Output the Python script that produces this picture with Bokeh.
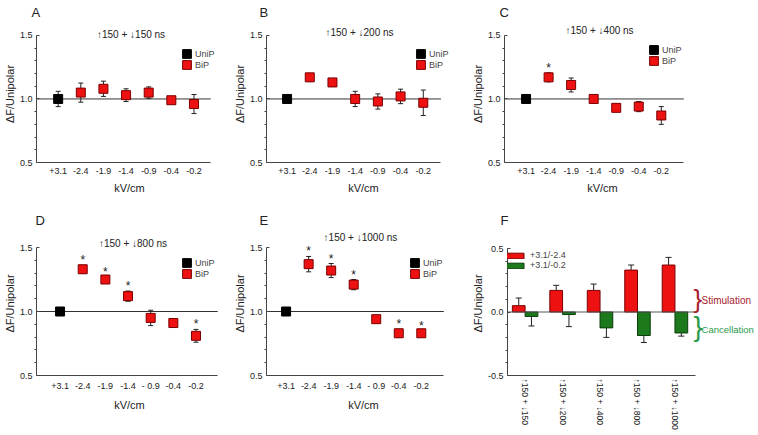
from bokeh.plotting import figure
from bokeh.models import (ColumnDataSource, Range1d, FixedTicker, NumeralTickFormatter,
                          Label, Legend, LegendItem, Whisker, TeeHead, Title)
from bokeh.layouts import row, column
from bokeh.embed import file_html
from bokeh.resources import INLINE
from bokeh.core.properties import value

FONT = "Liberation Sans"

# ---------------- data ----------------
field_labels = ["+3.1", "-2.4", "-1.9", "-1.4", "-0.9", "-0.4", "-0.2"]
field_labels_de = ["+3.1", "-2.4", "-1.9", "-1.4", "- 0.9", "-0.4", "-0.2"]
legend_labels = ["UniP", "BiP"]

A_title = "↑150 + ↓150 ns"
A_mean = [1.00, 1.05, 1.08, 1.03, 1.05, 0.99, 0.96]
A_err = [0.06, 0.075, 0.06, 0.05, 0.045, 0.02, 0.075]
A_sig = ["", "", "", "", "", "", ""]

B_title = "↑150 + ↓200 ns"
B_mean = [1.00, 1.17, 1.13, 1.00, 0.98, 1.02, 0.97]
B_err = [0.02, 0.03, 0.025, 0.06, 0.06, 0.057, 0.10]
B_sig = ["", "", "", "", "", "", ""]

C_title = "↑150 + ↓400 ns"
C_mean = [1.00, 1.17, 1.11, 1.00, 0.93, 0.94, 0.87]
C_err = [0.03, 0.035, 0.055, 0.03, 0.02, 0.04, 0.07]
C_sig = ["", "*", "", "", "", "", ""]

D_title = "↑150 + ↓800 ns"
D_mean = [1.00, 1.33, 1.25, 1.12, 0.95, 0.91, 0.81]
D_err = [0.02, 0.03, 0.02, 0.04, 0.06, 0.025, 0.05]
D_sig = ["", "*", "*", "*", "", "", "*"]

E_title = "↑150 + ↓1000 ns"
E_mean = [1.00, 1.37, 1.32, 1.21, 0.94, 0.83, 0.83]
E_err = [0.01, 0.06, 0.055, 0.04, 0.02, 0.03, 0.02]
E_sig = ["", "*", "*", "*", "", "*", "*"]

F_labels = ["↑150 + ↓150", "↑150 + ↓200", "↑150 + ↓400", "↑150 + ↓800", "↑150 + ↓1000"]
F_series = ["+3.1/-2.4", "+3.1/-0.2"]
F_stim = [0.05, 0.17, 0.17, 0.33, 0.37]
F_stim_err = [0.06, 0.04, 0.05, 0.04, 0.06]
F_canc = [-0.035, -0.02, -0.125, -0.185, -0.165]
F_canc_err = [0.075, 0.095, 0.075, 0.055, 0.025]

# ---------------- styles ----------------
RED = "#ee1111"
RED_LINE = "#7a0000"
GREEN = "#1c7a1c"
GREEN_LINE = "#0b3d0b"
AXIS = "#444444"
TXT = "#222222"
MINOR_AE = [0.6, 0.7, 0.8, 0.9, 1.1, 1.2, 1.3, 1.4]
MINOR_F = [-0.4, -0.3, -0.2, -0.1, 0.1, 0.2, 0.3, 0.4]


def style_axes(p, ylabel, xlabel):
    p.xgrid.visible = False
    p.ygrid.visible = False
    p.outline_line_color = None
    for ax in (p.xaxis[0], p.yaxis[0]):
        ax.axis_line_color = AXIS
        ax.major_tick_line_color = AXIS
        ax.minor_tick_line_color = AXIS
        ax.major_label_text_font = FONT
        ax.major_label_text_font_size = "9px"
        ax.major_label_text_color = TXT
        ax.axis_label_text_font = FONT
        ax.axis_label_text_font_size = "11px"
        ax.axis_label_text_font_style = "normal"
        ax.axis_label_text_color = TXT
    y = p.yaxis[0]
    y.axis_label = ylabel
    y.major_tick_in = 3
    y.major_tick_out = 0
    y.minor_tick_in = 0
    y.minor_tick_out = 2
    y.major_label_standoff = 2
    y.axis_label_standoff = 1
    y.formatter = NumeralTickFormatter(format="0.0")
    x = p.xaxis[0]
    x.axis_label = xlabel
    x.major_tick_in = 0
    x.major_tick_out = 0
    x.minor_tick_in = 0
    x.minor_tick_out = 0
    x.major_label_standoff = 5
    x.axis_label_standoff = 5


def letter_title(text, offset, standoff):
    return Title(text=text, align="left", vertical_align="top", offset=offset,
                 standoff=standoff, text_font=FONT, text_font_size="13px",
                 text_font_style="normal", text_color=TXT)


def panel(letter, title, mean, err, sig, ticklabels, W, H, bl, br, bt, bb,
          xstart, xaxis_end, xend, ytop, sub_x, sub_dy, leg_loc, let_dx, let_standoff):
    p = figure(width=W, height=H, output_backend="svg", toolbar_location=None, tools="",
               x_range=Range1d(xstart, xend), y_range=Range1d(0.5, ytop),
               min_border_left=bl, min_border_right=br, min_border_top=bt, min_border_bottom=bb)
    p.title = letter_title(letter, let_dx, let_standoff)
    style_axes(p, "ΔF/Unipolar", "kV/cm")
    idx = list(range(len(mean)))
    p.xaxis[0].ticker = FixedTicker(ticks=idx)
    p.xaxis[0].major_label_overrides = {i: t for i, t in zip(idx, ticklabels)}
    p.xaxis[0].bounds = (xstart, xaxis_end)
    p.yaxis[0].ticker = FixedTicker(ticks=[0.5, 1.0, 1.5], minor_ticks=MINOR_AE)
    p.yaxis[0].bounds = (0.5, 1.5)

    # reference line at 1.0 (unipolar level), spanning the drawn x axis
    p.line(x=[xstart, xaxis_end], y=[1.0, 1.0], line_color="#333333", line_width=1,
           level="underlay")

    upper = [m + e for m, e in zip(mean, err)]
    lower = [m - e for m, e in zip(mean, err)]
    src = ColumnDataSource(dict(x=idx, mean=mean, upper=upper, lower=lower, sig=sig))
    uni = ColumnDataSource(dict(x=idx[:1], mean=mean[:1]))
    bip = ColumnDataSource(dict(x=idx[1:], mean=mean[1:]))

    p.add_layout(Whisker(source=src, base="x", upper="upper", lower="lower",
                         line_color=TXT, line_width=1,
                         upper_head=TeeHead(size=5, line_color=TXT, line_width=1),
                         lower_head=TeeHead(size=5, line_color=TXT, line_width=1)))
    r_uni = p.rect(x="x", y="mean", width=9, height=9, width_units="screen",
                   height_units="screen", source=uni, fill_color="black", line_color="black")
    r_bip = p.rect(x="x", y="mean", width=9, height=9, width_units="screen",
                   height_units="screen", source=bip, fill_color=RED, line_color=RED_LINE)
    p.text(x="x", y="upper", text="sig", source=src, text_align="center",
           text_baseline="middle", y_offset=-5, text_font=value(FONT),
           text_font_size="12px", text_color=TXT)

    leg = Legend(items=[LegendItem(label=legend_labels[0], renderers=[r_uni]),
                        LegendItem(label=legend_labels[1], renderers=[r_bip])],
                 location=leg_loc, glyph_width=11, glyph_height=11, label_height=11,
                 label_width=24, label_text_font=FONT, label_text_font_size="9px",
                 label_standoff=3, spacing=0, padding=0, margin=0,
                 border_line_color=None, background_fill_alpha=0)
    p.add_layout(leg)

    p.text(x=[sub_x], y=[1.5], text=[title], y_offset=sub_dy, text_align="center",
           text_baseline="middle", text_font=value(FONT), text_font_size="10px",
           text_color=TXT)
    return p


# row 1: frames share top 25 / bottom 162 ; row 2: top 231 / bottom 375
pA = panel("A", A_title, A_mean, A_err, A_sig, field_labels, 230, 210, 33, 8, 25, 48,
           -0.957, 6.74, 7.26, 1.578, 3.22, -1, (145, 92), -5, 8)
pB = panel("B", B_title, B_mean, B_err, B_sig, field_labels, 238, 210, 32, 8, 25, 48,
           -0.906, 6.78, 7.64, 1.578, 3.19, -3, (149, 92), -7, 8)
pC = panel("C", C_title, C_mean, C_err, C_sig, field_labels, 290, 210, 32, 58, 25, 48,
           -0.957, 7.0, 7.74, 1.578, 3.26, -5, (144, 96), -5, 8)
pD = panel("D", D_title, D_mean, D_err, D_sig, field_labels_de, 230, 225, 33, 8, 21, 60,
           -1.04, 6.96, 7.17, 1.625, 3.22, -4, (145, 96), -1, 4)
pE = panel("E", E_title, E_mean, E_err, E_sig, field_labels_de, 238, 225, 32, 8, 21, 60,
           -0.87, 7.0, 7.74, 1.625, 3.3, -10, (143, 96), -7, 4)

# ---------------- panel F ----------------
F_XSTART, F_XAXIS_END, F_XEND = -0.47, 4.55, 6.23
pF = figure(width=290, height=225, output_backend="svg", toolbar_location=None, tools="",
            x_range=Range1d(F_XSTART, F_XEND), y_range=Range1d(-0.5, 0.634),
            min_border_left=32, min_border_right=0, min_border_top=21, min_border_bottom=60)
pF.title = letter_title("F", -7, 4)
style_axes(pF, "ΔF/Unipolar", "")
fidx = list(range(len(F_labels)))
pF.xaxis[0].ticker = FixedTicker(ticks=fidx)
pF.xaxis[0].major_label_overrides = {i: t for i, t in zip(fidx, F_labels)}
pF.xaxis[0].major_label_orientation = "vertical"
pF.xaxis[0].major_label_standoff = 3
pF.xaxis[0].major_label_text_font_size = "8.5px"
pF.xaxis[0].bounds = (F_XSTART, F_XAXIS_END)
pF.yaxis[0].ticker = FixedTicker(ticks=[-0.5, 0.0, 0.5], minor_ticks=MINOR_F)
pF.yaxis[0].bounds = (-0.5, 0.5)

fsrc = ColumnDataSource(dict(
    xr=[i - 0.17 for i in fidx], xg=[i + 0.17 for i in fidx],
    stim=F_stim, stim_hi=[v + e for v, e in zip(F_stim, F_stim_err)],
    canc=F_canc, canc_lo=[v - e for v, e in zip(F_canc, F_canc_err)]))

pF.add_layout(Whisker(source=fsrc, base="xr", lower="stim", upper="stim_hi",
                      line_color=TXT, lower_head=None,
                      upper_head=TeeHead(size=6, line_color=TXT)))
pF.add_layout(Whisker(source=fsrc, base="xg", lower="canc_lo", upper="canc",
                      line_color=TXT, upper_head=None,
                      lower_head=TeeHead(size=6, line_color=TXT)))
r_red = pF.vbar(x="xr", top="stim", bottom=0, width=0.34, source=fsrc,
                fill_color=RED, line_color=RED_LINE)
r_grn = pF.vbar(x="xg", top="canc", bottom=0, width=0.34, source=fsrc,
                fill_color=GREEN, line_color=GREEN_LINE)
pF.line(x=[F_XSTART, F_XAXIS_END], y=[0.0, 0.0], line_color="#555555", line_width=1)

legF = Legend(items=[LegendItem(label=F_series[0], renderers=[r_red]),
                     LegendItem(label=F_series[1], renderers=[r_grn])],
              location=(-6, 105), glyph_width=25, glyph_height=7, label_height=10,
              label_width=40, label_text_font=FONT, label_text_font_size="9px",
              label_standoff=4, spacing=0, padding=0, margin=0,
              border_line_color=None, background_fill_alpha=0)
pF.add_layout(legF)

STIM_C = "#a8202e"
CANC_C = "#2a9a4a"
pF.add_layout(Label(x=F_XAXIS_END, y=0.10, x_offset=-2, text="}", text_baseline="middle",
                    text_font=FONT, text_font_size="26px", text_color=STIM_C))
pF.add_layout(Label(x=F_XAXIS_END, y=0.088, x_offset=6, text="Stimulation",
                    text_baseline="middle", text_font=FONT, text_font_size="10px",
                    text_color=STIM_C))
pF.add_layout(Label(x=F_XAXIS_END, y=-0.118, x_offset=-2, text="}", text_baseline="middle",
                    text_font=FONT, text_font_size="28px", text_color=CANC_C))
pF.add_layout(Label(x=F_XAXIS_END, y=-0.134, x_offset=6, text="Cancellation",
                    text_baseline="middle", text_font=FONT, text_font_size="9.5px",
                    text_color=CANC_C))

layout = column(row(pA, pB, pC), row(pD, pE, pF))
open("out.html", "w").write(file_html(layout, INLINE))
